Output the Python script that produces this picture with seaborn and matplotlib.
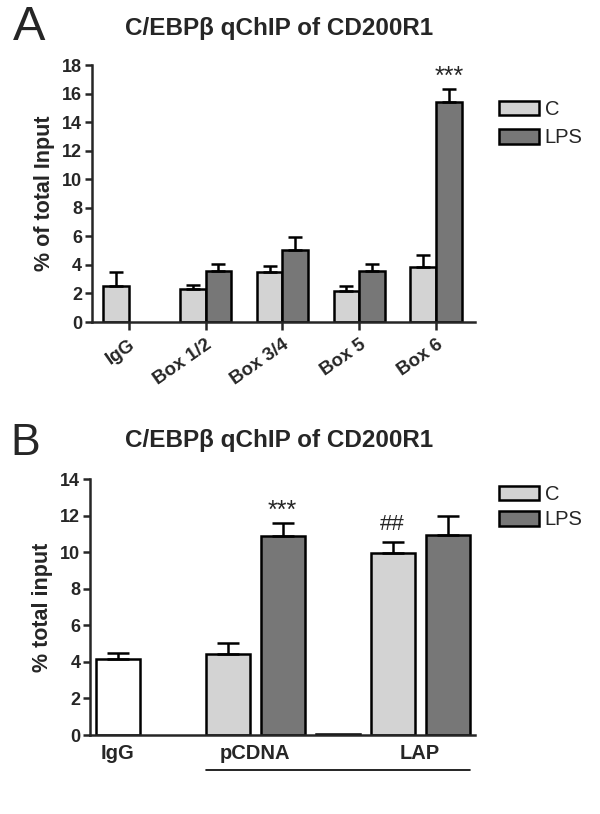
"""C/EBPb qChIP of CD200R1 - two panel bar chart (A: promoter boxes, B: pCDNA vs LAP)."""

import matplotlib
matplotlib.use("Agg")
import matplotlib.pyplot as plt
import matplotlib.transforms as mtransforms
from matplotlib.patches import Patch
import pandas as pd
import seaborn as sns

# Panel A data (% of total input, mean and SEM)
regions_a = ["IgG", "Box 1/2", "Box 3/4", "Box 5", "Box 6"]
c_mean_a = [2.55, 2.32, 3.50, 2.17, 3.88]
c_sem_a = [0.93, 0.30, 0.42, 0.36, 0.78]
lps_mean_a = [None, 3.60, 5.06, 3.60, 15.43]
lps_sem_a = [None, 0.43, 0.87, 0.47, 0.88]

# Panel B data: one slot per bar, "spacer" is left empty
slots_b = ["IgG", "spacer", "pCDNA C", "pCDNA LPS", "baseline", "LAP C", "LAP LPS"]
fill_b = ["IgG", None, "C", "LPS", "LPS", "C", "LPS"]
mean_b = [4.17, None, 4.43, 10.88, 0.06, 9.93, 10.95]
sem_b = [0.32, None, 0.62, 0.70, None, 0.65, 1.03]
group_labels_b = ["IgG", "pCDNA", "LAP"]
group_pos_b = [0, 2.5, 5.5]

COLORS = {"C": "#d3d3d3", "LPS": "#777777", "IgG": "#ffffff"}
LW = 1.8

sns.set_style("ticks")
plt.rcParams["font.family"] = ["Liberation Sans", "DejaVu Sans"]
plt.rcParams["axes.linewidth"] = LW

fig = plt.figure(figsize=(6, 8.14), dpi=100)


def add_errorbars(ax, lookup, capsize):
    for bar in ax.patches:
        cx = bar.get_x() + bar.get_width() / 2
        sem = lookup(cx)
        if sem is None:
            continue
        ax.errorbar(cx, bar.get_height(), yerr=[[0], [sem]], fmt="none",
                    ecolor="black", elinewidth=LW, capsize=capsize,
                    capthick=LW, zorder=3)


def style_axis(ax):
    sns.despine(ax=ax)
    ax.tick_params(axis="y", direction="out", length=5, width=LW,
                   labelsize=13, pad=2)
    for lab in ax.get_yticklabels():
        lab.set_fontweight("bold")


def add_legend(ax, y_top, spacing):
    handles = [Patch(facecolor=COLORS[k], edgecolor="black", linewidth=LW)
               for k in ["C", "LPS"]]
    ax.legend(handles, ["C", "LPS"], loc="upper left",
              bbox_to_anchor=(0.832, y_top), bbox_transform=fig.transFigure,
              frameon=False, fontsize=14.5, handlelength=2.0, handleheight=0.75,
              labelspacing=spacing, handletextpad=0.25, borderpad=0,
              borderaxespad=0)


# ---------------- Panel A ----------------
rows = []
for i, reg in enumerate(regions_a):
    rows.append({"region": reg, "cond": "C", "value": c_mean_a[i]})
    if lps_mean_a[i] is not None:
        rows.append({"region": reg, "cond": "LPS", "value": lps_mean_a[i]})
df_a = pd.DataFrame(rows)

axA = fig.add_axes([0.153, 0.6044, 0.639, 0.3157])
sns.barplot(data=df_a, x="region", y="value", hue="cond", order=regions_a,
            hue_order=["C", "LPS"], palette=COLORS, width=0.667,
            edgecolor="black", linewidth=LW, errorbar=None, legend=False,
            ax=axA)


def sem_a(cx):
    i = int(round(cx))
    return c_sem_a[i] if cx < i else lps_sem_a[i]


add_errorbars(axA, sem_a, capsize=5)
axA.set_xlim(-0.48, 4.51)
axA.set_ylim(0, 18)
axA.set_yticks(range(0, 19, 2))
axA.set_xlabel("")
axA.set_ylabel("% of total Input", fontsize=15.5, fontweight="bold", labelpad=5)
style_axis(axA)
axA.tick_params(axis="x", direction="out", length=6, width=LW, pad=4)
axA.set_xticks(range(len(regions_a)))
axA.set_xticklabels(regions_a, rotation=35, ha="right", rotation_mode="anchor",
                    fontsize=13.5, fontweight="bold")
axA.text(4.167, 16.7, "***", ha="center", va="baseline", fontsize=18)
add_legend(axA, 0.877, 0.45)

# ---------------- Panel B ----------------
df_b = pd.DataFrame({"slot": slots_b, "fill": fill_b, "value": mean_b})
df_b = df_b.dropna(subset=["value"])
palette_b = {s: COLORS[f] for s, f in zip(df_b["slot"], df_b["fill"])}

axB = fig.add_axes([0.15, 0.097, 0.642, 0.3145])
sns.barplot(data=df_b, x="slot", y="value", hue="slot", order=slots_b,
            hue_order=list(df_b["slot"]), palette=palette_b, width=0.8,
            dodge=False, edgecolor="black", linewidth=LW, errorbar=None,
            legend=False, ax=axB)
add_errorbars(axB, lambda cx: sem_b[int(round(cx))], capsize=8)
axB.set_xlim(-0.5, 6.5)
axB.set_ylim(0, 14)
axB.set_yticks(range(0, 15, 2))
axB.set_xlabel("")
axB.set_ylabel("% total input", fontsize=15.5, fontweight="bold", labelpad=5)
style_axis(axB)
axB.set_xticks([])

trans = mtransforms.blended_transform_factory(axB.transData, axB.transAxes)
for lab, pos in zip(group_labels_b, group_pos_b):
    axB.text(pos, -0.094, lab, transform=trans, ha="center", va="baseline",
             fontsize=14.5, fontweight="bold")
axB.plot([1.6, 6.4], [-0.137, -0.137], transform=trans, color="black",
         linewidth=1.2, clip_on=False)
axB.text(3, 11.9, "***", ha="center", va="baseline", fontsize=18)
axB.text(5, 11.2, "##", ha="center", va="baseline", fontsize=16)
add_legend(axB, 0.404, 0.3)

# ---------------- Titles and panel letters ----------------
title = "C/EBP\u03b2 qChIP of CD200R1"
fig.text(0.465, 0.957, title, ha="center", va="baseline", fontsize=17.5,
         fontweight="bold")
fig.text(0.465, 0.451, title, ha="center", va="baseline", fontsize=17.5,
         fontweight="bold")
fig.text(0.022, 0.951, "A", ha="left", va="baseline", fontsize=35)
fig.text(0.018, 0.441, "B", ha="left", va="baseline", fontsize=32)

fig.savefig("out.png", dpi=100, facecolor="white")
plt.close(fig)
